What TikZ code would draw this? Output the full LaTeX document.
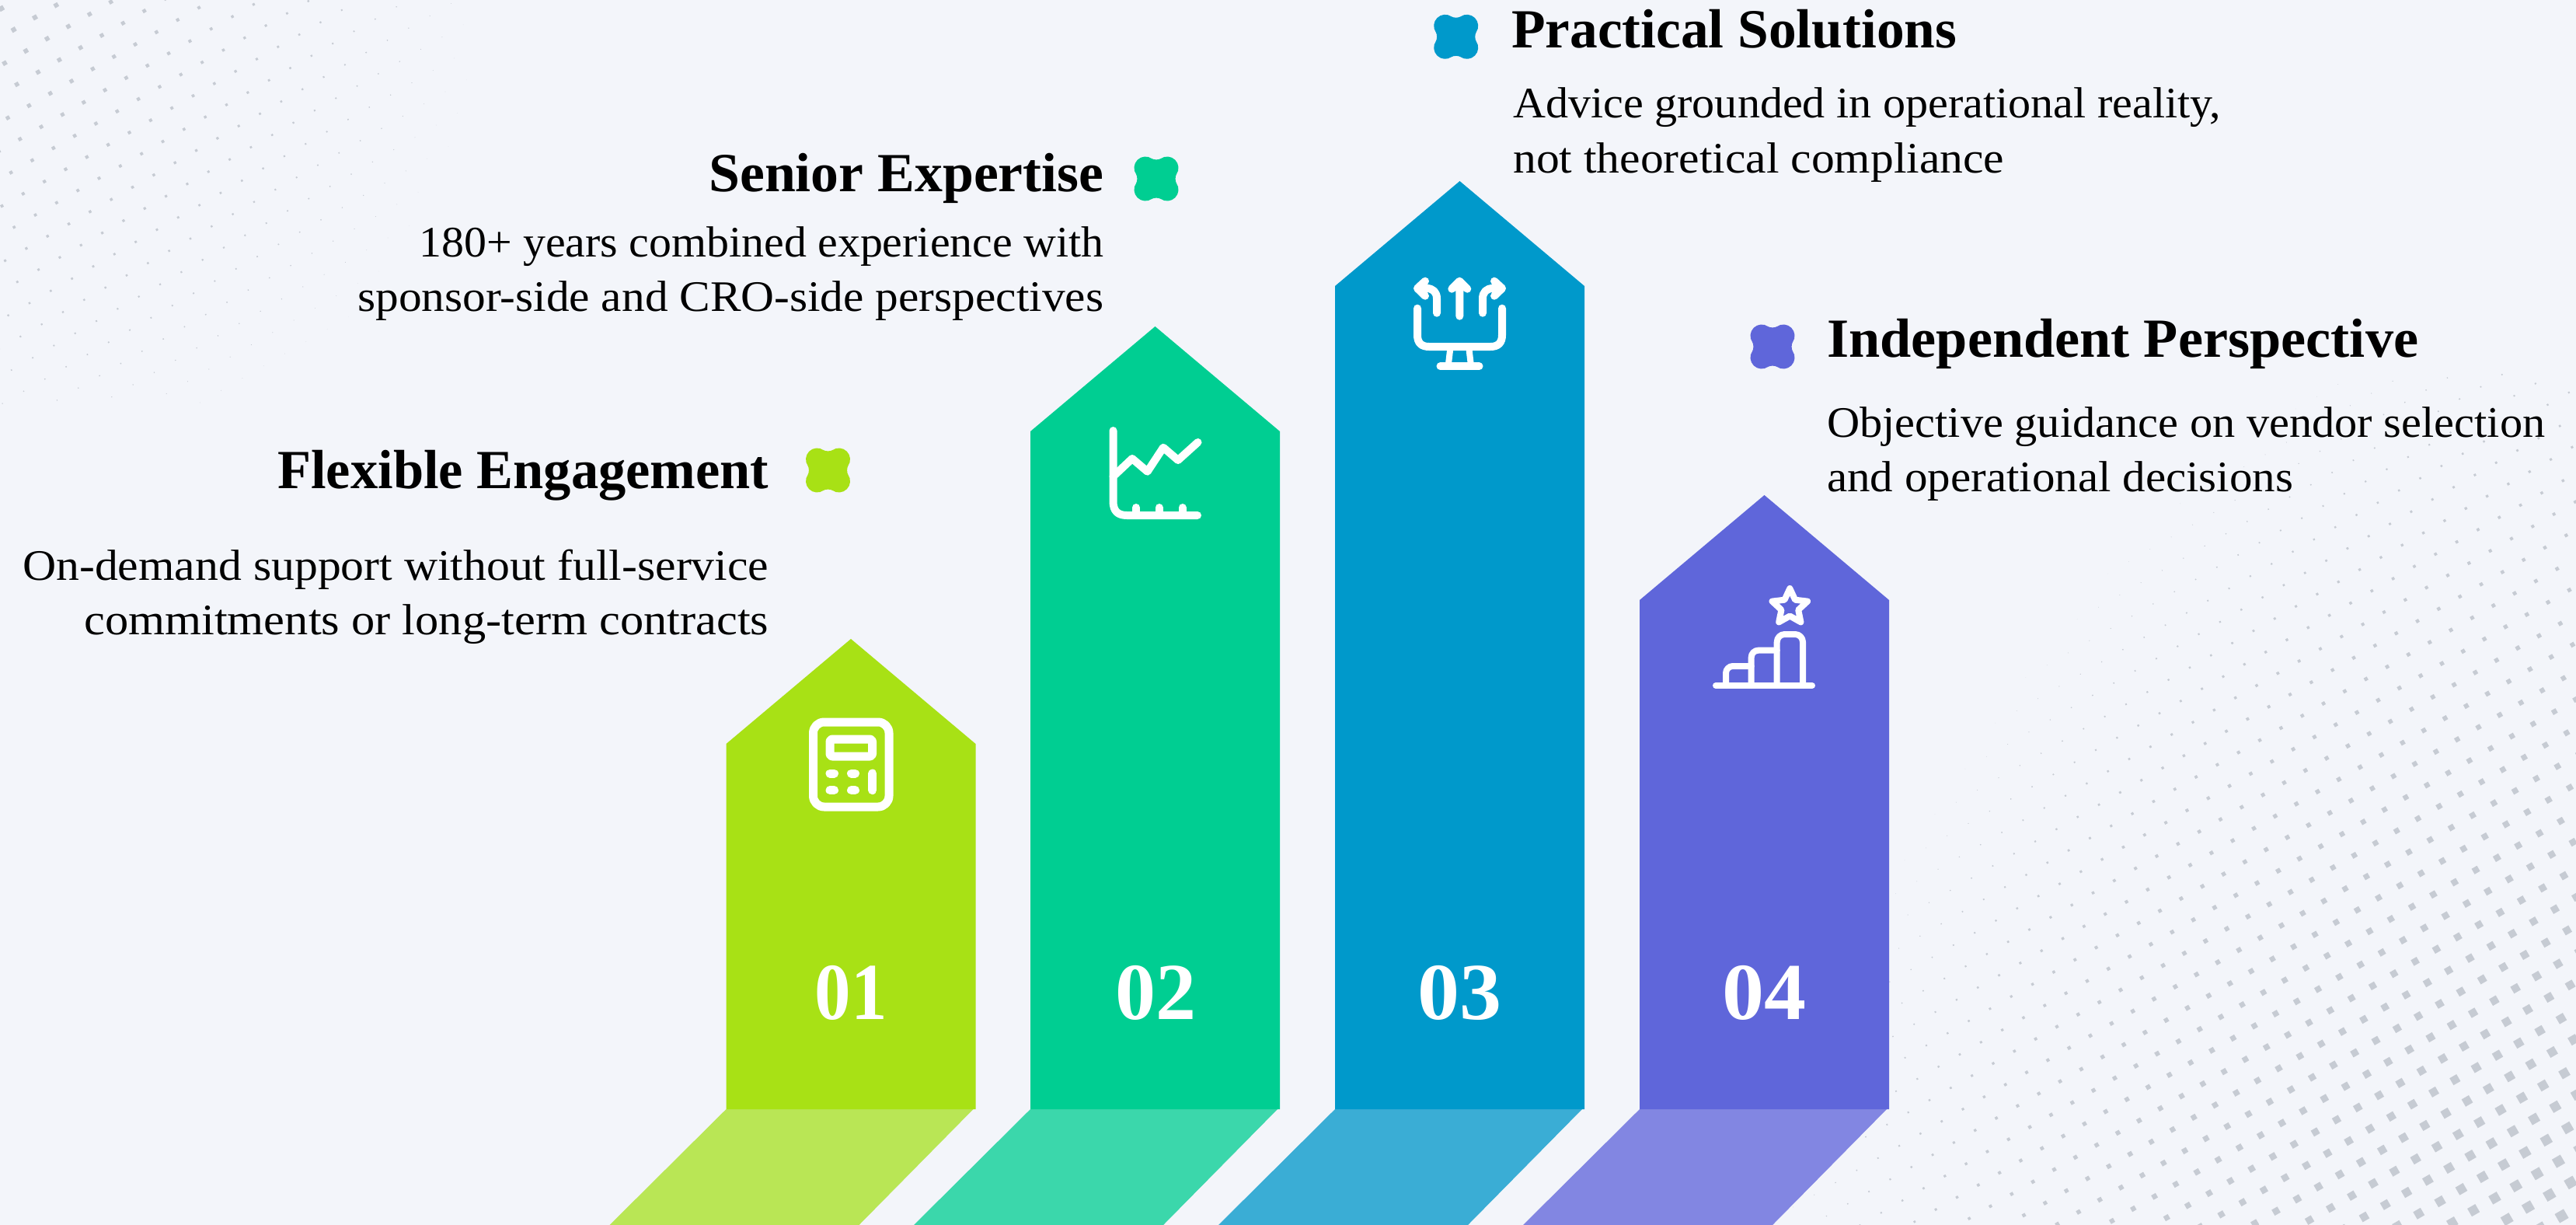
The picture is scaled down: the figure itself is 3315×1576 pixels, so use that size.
\documentclass[tikz,border=0pt]{standalone}
\usepackage{fontspec}
\usepackage{graphicx}
\setmainfont{Liberation Serif}
\definecolor{bgc}{HTML}{F3F5FA}
\definecolor{dotc}{HTML}{C6CBD3}
\definecolor{limec}{HTML}{A8E115}
\definecolor{greenc}{HTML}{00CE92}
\definecolor{bluec}{HTML}{0099CB}
\definecolor{violetc}{HTML}{5F66DA}
\definecolor{limes}{HTML}{B9E655}
\definecolor{greens}{HTML}{3BD7AB}
\definecolor{blues}{HTML}{3AADD5}
\definecolor{violets}{HTML}{8286E2}
\newcommand{\fitw}[2]{\resizebox{#1pt}{\height}{#2}}
% arrow: left x, apex y, body colour, shadow colour
\newcommand{\bararrow}[4]{%
  \fill[#4] (#1,1427) -- ({#1+318},1427) -- ({#1+171},1576) -- ({#1-150},1576) -- cycle;
  \fill[#3] (#1,{#2+135}) -- ({#1+160.5},#2) -- ({#1+321},{#2+135}) -- ({#1+321},1427) -- (#1,1427) -- cycle;}
\newcommand{\blobshape}[3]{%
  \fill[#3,shift={(#1,#2)}] (25.88,5.68)
   .. controls (29.92,11.45) and (29.23,19.27) .. (24.25,24.25)
   .. controls (19.27,29.23) and (11.45,29.92) .. (5.68,25.88)
   .. controls (3.2,24.2) and (-3.2,24.2) .. (-5.68,25.88)
   .. controls (-11.45,29.92) and (-19.27,29.23) .. (-24.25,24.25)
   .. controls (-29.23,19.27) and (-29.92,11.45) .. (-25.88,5.68)
   .. controls (-24.2,3.2) and (-24.2,-3.2) .. (-25.88,-5.68)
   .. controls (-29.92,-11.45) and (-29.23,-19.27) .. (-24.25,-24.25)
   .. controls (-19.27,-29.23) and (-11.45,-29.92) .. (-5.68,-25.88)
   .. controls (-3.2,-24.2) and (3.2,-24.2) .. (5.68,-25.88)
   .. controls (11.45,-29.92) and (19.27,-29.23) .. (24.25,-24.25)
   .. controls (29.23,-19.27) and (29.92,-11.45) .. (25.88,-5.68)
   .. controls (24.2,-3.2) and (24.2,3.2) .. (25.88,5.68) -- cycle;}
\tikzset{
  icon/.style={draw=white,line width=10pt,line cap=round,line join=round},
  titletext/.style={inner sep=0pt,font=\fontsize{71}{71}\selectfont\bfseries,text=black},
  bodytext/.style={inner sep=0pt,font=\fontsize{56}{56}\selectfont,text=black},
  numtext/.style={inner sep=0pt,anchor=base,font=\fontsize{104}{104}\selectfont\bfseries,text=white}
}
\begin{document}
\begin{tikzpicture}[x=1pt,y=-1pt]
\useasboundingbox (0,0) rectangle (3315,1576);
\fill[bgc] (0,0) rectangle (3315,1576);
\begin{scope}
\clip (0,0) rectangle (3315,1576);
% halftone, top left
\foreach \i in {-16,...,24}{\foreach \j in {-4,...,26}{
  \pgfmathsetmacro\px{72.3+\i*27.33+\j*15.7}
  \pgfmathsetmacro\py{6.7-\i*15.75+\j*27.3}
  \pgfmathsetmacro\rr{veclen(\px/100,\py/100)}
  \pgfmathsetmacro\ss{(8.8-1.389*\rr)/1.366}
  \pgfmathparse{(\ss>0.25 && \px>-12 && \py>-12 && \px<640 && \py<520)?1:0}
  \ifnum\pgfmathresult=1
    \fill[dotc,shift={(\px,\py)},rotate=30] (-\ss/2,-\ss/2) rectangle (\ss/2,\ss/2);
  \fi
}}
% halftone, bottom right
\foreach \i in {-32,...,18}{\foreach \j in {-20,...,30}{
  \pgfmathsetmacro\px{2970.3+\i*27.33+\j*15.7}
  \pgfmathsetmacro\py{807.4-\i*15.75+\j*27.3}
  \pgfmathparse{(\px>2300 && \px<3330 && \py>480 && \py<1590)?1:0}
  \ifnum\pgfmathresult=1
    \pgfmathsetmacro\xx{abs(0.0175*(3315-\px))+0.01}
    \pgfmathsetmacro\yy{abs(0.0145*(1576-\py))+0.01}
    \pgfmathsetmacro\ss{(18.5-(\xx^1.5+\yy^1.5)^(2/3))/1.366}
    \pgfmathparse{\ss>0.3?1:0}
    \ifnum\pgfmathresult=1
      \fill[dotc,shift={(\px,\py)},rotate=30] (-\ss/2,-\ss/2) rectangle (\ss/2,\ss/2);
    \fi
  \fi
}}
\end{scope}
% arrows
\bararrow{934.5}{822}{limec}{limes}
\bararrow{1326}{420}{greenc}{greens}
\bararrow{1718}{233}{bluec}{blues}
\bararrow{2110}{637}{violetc}{violets}
% blobs
\blobshape{1065.5}{605}{limec}
\blobshape{1488}{230}{greenc}
\blobshape{1873.7}{47.3}{bluec}
\blobshape{2281}{446}{violetc}
% numbers
\node[numtext] (n1) at (1095,1311) {\fitw{93}{01}};
\node[numtext] (n2) at (1487,1311) {\fitw{104}{02}};
\node[numtext] (n3) at (1878,1311) {\fitw{108}{03}};
\node[numtext] (n4) at (2270.5,1311) {\fitw{108}{04}};
% titles
\node[titletext,anchor=base east] (t1) at (989.5,628) {\fitw{632}{Flexible Engagement}};
\node[titletext,anchor=base east] (t2) at (1420.5,247) {\fitw{508}{Senior Expertise}};
\node[titletext,anchor=base west] (t3) at (1945,62) {\fitw{573}{Practical Solutions}};
\node[titletext,anchor=base west] (t4) at (2351,459) {\fitw{761}{Independent Perspective}};
% body text
\node[bodytext,anchor=base east] (b11) at (989.5,746) {\fitw{960}{On-demand support without full-service}};
\node[bodytext,anchor=base east] (b12) at (989.5,816) {\fitw{881}{commitments or long-term contracts}};
\node[bodytext,anchor=base east] (b21) at (1420.5,330) {\fitw{881}{180+ years combined experience with}};
\node[bodytext,anchor=base east] (b22) at (1420.5,400) {\fitw{960}{sponsor-side and CRO-side perspectives}};
\node[bodytext,anchor=base west] (b31) at (1947,152) {\fitw{911}{Advice grounded in operational reality,}};
\node[bodytext,anchor=base west] (b32) at (1947,222) {\fitw{632}{not theoretical compliance}};
\node[bodytext,anchor=base west] (b41) at (2351,562) {\fitw{924}{Objective guidance on vendor selection}};
\node[bodytext,anchor=base west] (b42) at (2351,632) {\fitw{600}{and operational decisions}};
% icon 1: calculator
\draw[icon,line width=11pt,rounded corners=14pt] (1046.5,929) rectangle (1144,1038);
\draw[icon,line width=11pt,rounded corners=3pt] (1068,951) rectangle (1122.5,973);
\draw[icon,line width=11pt] (1068,995) -- (1073.5,995) (1095.5,995) -- (1100.5,995)
  (1068,1016.6) -- (1073.5,1016.6) (1095.5,1016.6) -- (1100.5,1016.6)
  (1122.7,995) -- (1122.7,1016.6);
% icon 2: chart
\draw[icon] (1432.5,554) -- (1432.5,645) .. controls (1432.5,657) and (1438,663) .. (1450,663) -- (1541,663);
\draw[icon] (1462,653) -- (1462,663) (1491.6,653) -- (1491.6,663) (1521.6,653) -- (1521.6,663);
\draw[icon] (1432.5,613) -- (1457,590) -- (1476.6,606.7) -- (1497,575.7) -- (1516,592) -- (1541.5,569);
% icon 3: monitor with arrows
\draw[icon] (1824,396.7) -- (1824,431) .. controls (1824,441) and (1829,446) .. (1839,446) -- (1918,446) .. controls (1928,446) and (1933,441) .. (1933,431) -- (1933,396.7);
\draw[icon] (1853.5,471.3) -- (1903.5,471.3);
\draw[icon,line width=8pt] (1866,451) -- (1864,468) (1890.7,451) -- (1892.7,468);
\draw[icon] (1878.3,406.7) -- (1878.3,363) (1868.3,371.7) -- (1878.3,361.7) -- (1888.3,371.7);
\draw[icon] (1849,402.7) -- (1849,384) .. controls (1849,376) and (1844,371) .. (1836,371) -- (1824,371) (1834,361.7) -- (1824,371) -- (1834,380.7);
\draw[icon] (1908,402.7) -- (1908,384) .. controls (1908,376) and (1913,371) .. (1921,371) -- (1933,371) (1923,361.7) -- (1933,371) -- (1923,380.7);
% icon 4: bars and star
\draw[icon,line width=8pt] (2208,882) -- (2332,882);
\draw[icon,line width=8pt,rounded corners=9pt] (2221,882) -- (2221,857) -- (2253.7,857);
\draw[icon,line width=8pt,rounded corners=9pt] (2253.7,882) -- (2253.7,836.7) -- (2286.7,836.7);
\draw[icon,line width=8pt,rounded corners=10pt] (2286.7,882) -- (2286.7,816) -- (2320,816) -- (2320,882);
\draw[icon,line width=8pt] (2303.3,757)
  -- (2310.1,771.7) -- (2326.1,773.6) -- (2314.2,784.6) -- (2317.4,800.4)
  -- (2303.3,792.5) -- (2289.2,800.4) -- (2292.4,784.6) -- (2280.5,773.6) -- (2296.5,771.7) -- cycle;
\end{tikzpicture}
\end{document}
